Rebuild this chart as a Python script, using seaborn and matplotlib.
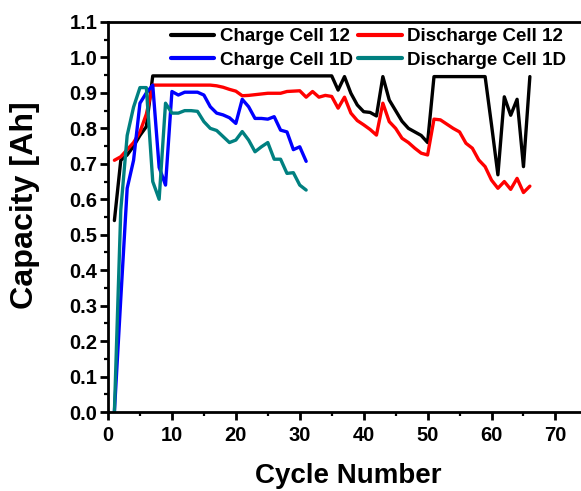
import numpy as np
import pandas as pd
import matplotlib
matplotlib.use("Agg")
import matplotlib.pyplot as plt
from matplotlib.ticker import MultipleLocator
import seaborn as sns

# ---------------- data ----------------
cycles_12 = list(range(1, 67))
charge_12 = [0.54, 0.71, 0.725, 0.75, 0.78, 0.805, 0.948, 0.948, 0.948, 0.948,
             0.948, 0.948, 0.948, 0.948, 0.948, 0.948, 0.948, 0.948, 0.948, 0.948,
             0.948, 0.948, 0.948, 0.948, 0.948, 0.948, 0.948, 0.948, 0.948, 0.948,
             0.948, 0.948, 0.948, 0.948, 0.948, 0.908, 0.946, 0.899, 0.866, 0.847,
             0.845, 0.835, 0.946, 0.88, 0.85, 0.82, 0.80, 0.79, 0.78, 0.76,
             0.946, 0.946, 0.946, 0.946, 0.946, 0.946, 0.946, 0.946, 0.946, 0.81,
             0.669, 0.889, 0.837, 0.882, 0.692, 0.946]
discharge_12 = [0.71, 0.72, 0.74, 0.76, 0.79, 0.84, 0.922, 0.922, 0.922, 0.922,
                0.922, 0.922, 0.922, 0.922, 0.922, 0.922, 0.92, 0.916, 0.91, 0.905,
                0.892, 0.893, 0.895, 0.897, 0.899, 0.899, 0.899, 0.904, 0.905, 0.906,
                0.888, 0.904, 0.888, 0.893, 0.89, 0.857, 0.888, 0.843, 0.822, 0.81,
                0.797, 0.781, 0.871, 0.819, 0.80, 0.772, 0.76, 0.744, 0.73, 0.725,
                0.826, 0.824, 0.812, 0.80, 0.79, 0.758, 0.744, 0.711, 0.692, 0.654,
                0.631, 0.65, 0.628, 0.659, 0.619, 0.637]
cycles_1d = list(range(1, 32))
charge_1d = [0.0, 0.32, 0.631, 0.71, 0.871, 0.90, 0.922, 0.69, 0.64, 0.904,
             0.894, 0.902, 0.902, 0.902, 0.894, 0.861, 0.843, 0.838, 0.83, 0.814,
             0.882, 0.861, 0.828, 0.828, 0.826, 0.833, 0.795, 0.79, 0.74, 0.748,
             0.707]
discharge_1d = [0.0, 0.57, 0.78, 0.86, 0.915, 0.915, 0.65, 0.60, 0.871, 0.843,
                0.843, 0.85, 0.85, 0.848, 0.819, 0.80, 0.794, 0.777, 0.76, 0.767,
                0.791, 0.767, 0.734, 0.748, 0.76, 0.713, 0.713, 0.673, 0.675, 0.64,
                0.626]

series_names = ["Charge Cell 12", "Discharge Cell 12", "Charge Cell 1D", "Discharge Cell 1D"]
series_colors = ["#000000", "#FF0000", "#0000FF", "#008080"]
x_ticks = [0, 10, 20, 30, 40, 50, 60, 70]
y_ticks = [0.0, 0.1, 0.2, 0.3, 0.4, 0.5, 0.6, 0.7, 0.8, 0.9, 1.0, 1.1]

frames = [
    pd.DataFrame({"Cycle": cycles_12, "Capacity": charge_12, "Series": series_names[0]}),
    pd.DataFrame({"Cycle": cycles_12, "Capacity": discharge_12, "Series": series_names[1]}),
    pd.DataFrame({"Cycle": cycles_1d, "Capacity": charge_1d, "Series": series_names[2]}),
    pd.DataFrame({"Cycle": cycles_1d, "Capacity": discharge_1d, "Series": series_names[3]}),
]
df = pd.concat(frames, ignore_index=True)

# ---------------- style ----------------
sns.set_style("ticks")
plt.rcParams["font.family"] = ["Liberation Sans", "DejaVu Sans"]
plt.rcParams["font.weight"] = "bold"
for key in ["text.color", "axes.labelcolor", "xtick.color", "ytick.color", "axes.edgecolor"]:
    plt.rcParams[key] = "black"

fig = plt.figure(figsize=(5.81, 4.91), dpi=100)
ax = fig.add_axes([108 / 581, 79 / 491, 473 / 581, 390 / 491])

sns.lineplot(data=df, x="Cycle", y="Capacity", hue="Series", hue_order=series_names,
             palette=dict(zip(series_names, series_colors)), linewidth=2.4,
             estimator=None, sort=False, ax=ax, legend=True)

ax.set_xlim(0, 74)
ax.set_ylim(0, 1.1)
ax.set_xticks(x_ticks)
ax.set_yticks(y_ticks)
ax.set_yticklabels([f"{v:.1f}" for v in y_ticks])
ax.xaxis.set_minor_locator(MultipleLocator(5))
ax.yaxis.set_minor_locator(MultipleLocator(0.05))

for side in ["left", "bottom", "top"]:
    ax.spines[side].set_linewidth(2.0)
    ax.spines[side].set_color("black")
ax.spines["right"].set_visible(False)

ax.tick_params(axis="both", which="major", direction="out", length=5.5, width=2,
               labelsize=14.5, color="black", labelcolor="black")
ax.tick_params(axis="y", which="major", pad=2)
ax.tick_params(axis="x", which="major", pad=4.5)
ax.tick_params(axis="both", which="minor", direction="out", length=3, width=1.6,
               color="black")
for lab in ax.get_xticklabels() + ax.get_yticklabels():
    lab.set_fontweight("bold")

ax.set_xlabel("Cycle Number", fontsize=20, fontweight="bold", color="black")
ax.set_ylabel("Capacity [Ah]", fontsize=23.2, fontweight="bold", color="black")
ax.xaxis.set_label_coords(0.508, -0.131)
ax.yaxis.set_label_coords(-0.144, 0.53)

handles, labels = ax.get_legend_handles_labels()
lookup = dict(zip(labels, handles))
order = ["Charge Cell 12", "Charge Cell 1D", "Discharge Cell 12", "Discharge Cell 1D"]
leg = ax.legend([lookup[n] for n in order], order,
                loc="upper left", bbox_to_anchor=(171 / 581, 1 - 28 / 491),
                bbox_transform=fig.transFigure, ncol=2, frameon=False,
                fontsize=13.5, handlelength=2.3, handletextpad=0.3,
                columnspacing=0.3, labelspacing=0.35, borderpad=0, borderaxespad=0)
for t in leg.get_texts():
    t.set_fontweight("bold")
    t.set_color("black")
for h in leg.get_lines():
    h.set_linewidth(3)

fig.savefig("out.png", dpi=100)
